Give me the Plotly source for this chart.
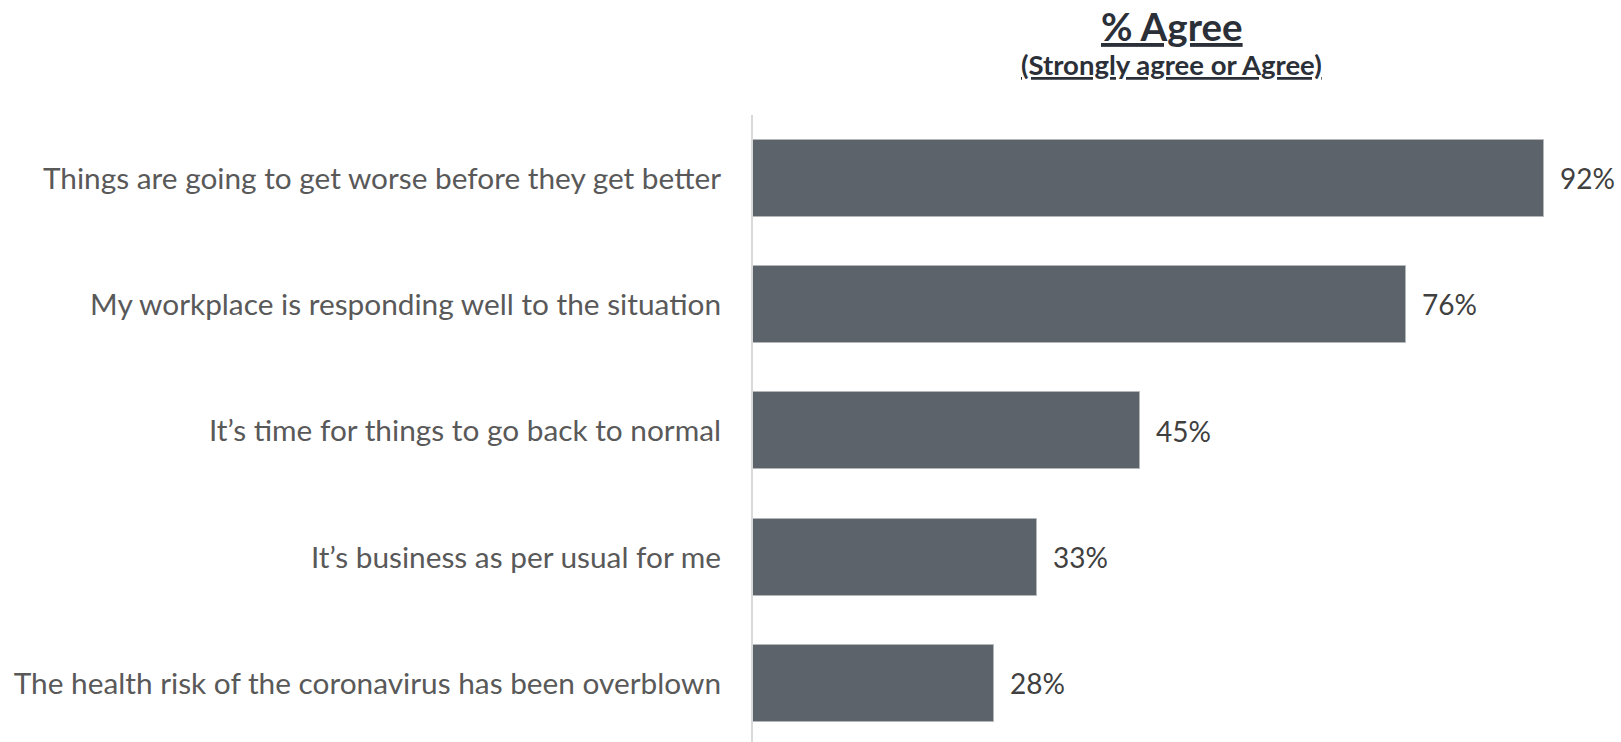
import plotly.graph_objects as go

# Survey statements and share agreeing (strongly agree or agree)
statements = [
    "Things are going to get worse before they get better",
    "My workplace is responding well to the situation",
    "It’s time for things to go back to normal",
    "It’s business as per usual for me",
    "The health risk of the coronavirus has been overblown",
]
agree_pct = [92, 76, 45, 33, 28]
value_labels = [f"{v}%" for v in agree_pct]

positions = list(range(len(statements)))

BAR_COLOR = "#5c636b"
LABEL_COLOR = "#595959"
VALUE_COLOR = "#404040"
TITLE_COLOR = "#2b3038"
FONT = "Lato, 'Open Sans', sans-serif"

fig = go.Figure()
fig.add_trace(go.Bar(
    x=agree_pct,
    y=positions,
    orientation="h",
    width=0.61,
    marker=dict(color=BAR_COLOR, line=dict(color="#b4b7ba", width=1)),
    hoverinfo="skip",
))

# value labels just right of each bar end
for pos, val, txt in zip(positions, agree_pct, value_labels):
    fig.add_annotation(
        x=val, y=pos, xref="x", yref="y",
        text=txt, showarrow=False,
        xanchor="left", yanchor="middle", xshift=14,
        font=dict(family=FONT, size=28, color=VALUE_COLOR),
    )

# heading above the bars
fig.add_annotation(
    x=0.4827, y=1.142, xref="paper", yref="paper",
    text="<b><u>% Agree</u></b>", showarrow=False,
    xanchor="center", yanchor="middle", borderpad=0,
    font=dict(family=FONT, size=38.5, color=TITLE_COLOR),
)
fig.add_annotation(
    x=0.4827, y=1.0806, xref="paper", yref="paper",
    text="<b><u>(Strongly agree or Agree)</u></b>", showarrow=False,
    xanchor="center", yanchor="middle",
    font=dict(family=FONT, size=27.5, color=TITLE_COLOR),
)

fig.update_layout(
    width=1621, height=742,
    margin=dict(l=753, r=0, t=115, b=0, pad=0),
    paper_bgcolor="white", plot_bgcolor="white",
    showlegend=False,
    bargap=0,
    xaxis=dict(
        range=[0, 100.97], visible=False, fixedrange=True,
    ),
    yaxis=dict(
        range=[4.464, -0.5],
        tickvals=positions, ticktext=statements,
        showgrid=False, zeroline=False,
        showline=True, linecolor="#d9d9d9", linewidth=2,
        ticks="", ticklabelstandoff=24,
        tickfont=dict(family=FONT, size=29.8, color=LABEL_COLOR),
        fixedrange=True,
    ),
)

fig.write_html("out.html")
